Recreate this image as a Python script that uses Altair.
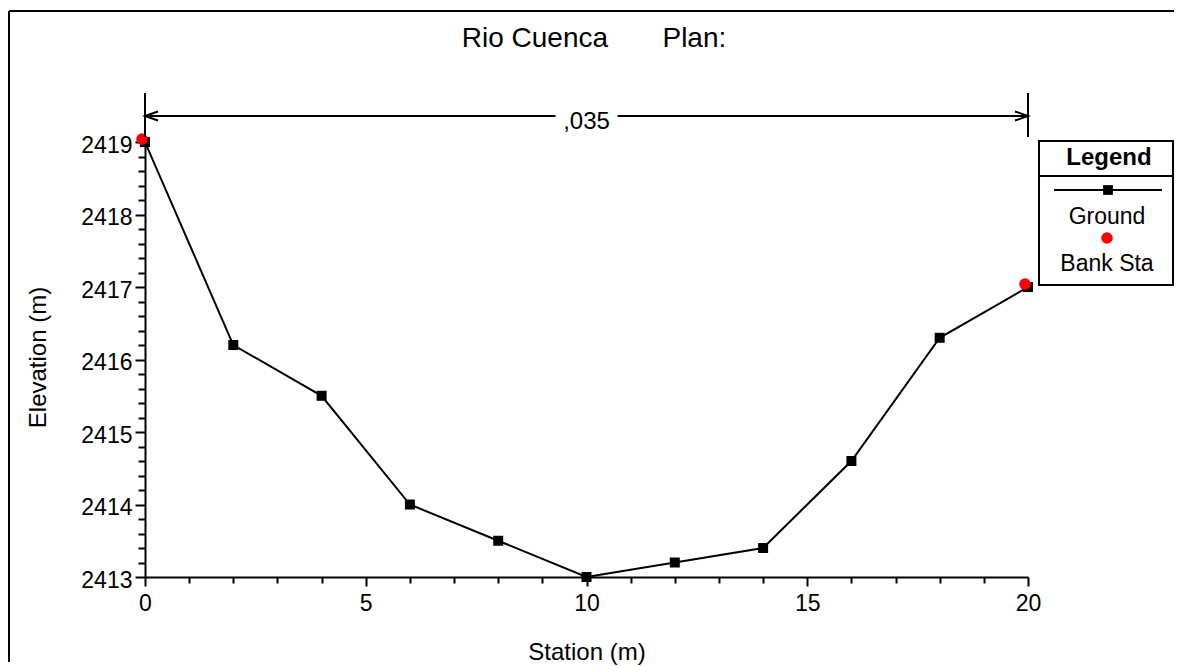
import altair as alt
import pandas as pd

# ---- data ----
stations = [0, 2, 4, 6, 8, 10, 12, 14, 16, 18, 20]
elevations = [2419.0, 2416.2, 2415.5, 2414.0, 2413.5, 2413.0, 2413.2, 2413.4, 2414.6, 2416.3, 2417.0]
bank_stations = [0, 20]
bank_elevations = [2419.0, 2417.0]
n_label = ",035"
n_start = 0
n_end = 20
x_ticks = list(range(0, 21))
y_ticks = [round(2413 + 0.2 * i, 1) for i in range(31)]
title_text = "Rio Cuenca" + "\u00a0" * 7 + "Plan:"
legend_title = "Legend"
legend_labels = ["Ground", "Bank Sta"]

FONT = "Liberation Sans"
W, H = 883, 440

ground = pd.DataFrame({"station": stations, "elevation": elevations})
bank = pd.DataFrame({"station": bank_stations, "elevation": bank_elevations})
nrow = pd.DataFrame({"station": [n_start], "station_end": [n_end],
                     "mid": [(n_start + n_end) / 2], "label": [n_label]})
ends = pd.DataFrame({"station": [n_start, n_end]})
one = pd.DataFrame({"k": [0]})

xscale = alt.Scale(domain=[0, 20], nice=False, zero=False)
yscale = alt.Scale(domain=[2413, 2419.07], nice=False, zero=False)

common_axis = dict(
    domainColor="black", domainWidth=2, tickColor="black", tickWidth=2,
    labelFont=FONT, labelFontSize=23, labelColor="black",
    labelOverlap=False, labelFlush=False, labelBound=False, grid=False,
    titleFont=FONT, titleFontSize=24, titleFontWeight="normal", titleColor="black",
    titleAlign="center", titleBaseline="middle",
)

xaxis = alt.Axis(
    title="Station (m)", values=x_ticks, tickCount=len(x_ticks), tickMinStep=1,
    labelExpr="datum.value % 5 === 0 ? format(datum.value, 'd') : ''",
    tickSize={"condition": {"test": "datum.value % 5 === 0", "value": 9}, "value": 6},
    labelPadding=6, titleX=W / 2, titleY=75, **common_axis)
yaxis = alt.Axis(
    title="Elevation (m)", values=y_ticks, tickCount=len(y_ticks), tickMinStep=0.2,
    labelExpr="datum.value % 1 === 0 ? format(datum.value, 'd') : ''",
    tickSize={"condition": {"test": "datum.value % 1 === 0", "value": 10}, "value": 7},
    labelPadding=3, labelOffset=3, titleX=-107, titleY=H / 2, titleAngle=270, **common_axis)

X = alt.X("station:Q", scale=xscale, axis=xaxis)
Y = alt.Y("elevation:Q", scale=yscale, axis=yaxis)

line = alt.Chart(ground).mark_line(color="black", strokeWidth=2).encode(x=X, y=Y)
squares = alt.Chart(ground).mark_point(shape="square", filled=True, size=100,
                                       color="black", opacity=1).encode(x=X, y=Y)
banks = alt.Chart(bank).mark_circle(size=135, color="#ff0000", opacity=1,
                                    xOffset=-3, yOffset=-3).encode(x=X, y=Y)

# ---- Manning's n dimension line above plot ----
markers = alt.Chart(ends).mark_rule(color="black", strokeWidth=2).encode(
    x="station:Q", y=alt.value(-44), y2=alt.value(0))
seg_left = alt.Chart(nrow).mark_rule(color="black", strokeWidth=2, x2Offset=-31).encode(
    x="station:Q", x2="mid:Q", y=alt.value(-21))
seg_right = alt.Chart(nrow).mark_rule(color="black", strokeWidth=2, xOffset=31).encode(
    x="mid:Q", x2="station_end:Q", y=alt.value(-21))
arrow_left = alt.Chart(nrow).mark_point(shape="M1,-0.35L0,0L1,0.35", size=676, filled=False,
                                        color="black", strokeWidth=2, opacity=1).encode(
    x="station:Q", y=alt.value(-21))
arrow_right = alt.Chart(nrow).mark_point(shape="M-1,-0.35L0,0L-1,0.35", size=676, filled=False,
                                         color="black", strokeWidth=2, opacity=1).encode(
    x="station_end:Q", y=alt.value(-21))
n_text = alt.Chart(nrow).mark_text(font=FONT, fontSize=24, color="black",
                                   align="center", baseline="middle").encode(
    x="mid:Q", y=alt.value(-15), text="label:N")

# ---- title ----
title = alt.Chart(one).mark_text(font=FONT, fontSize=28, color="black",
                                 align="center", baseline="middle").encode(
    x=alt.value(449), y=alt.value(-98), text=alt.value(title_text))

# ---- outer frame ----
frame_left = alt.Chart(one).mark_rule(color="black", strokeWidth=2).encode(
    x=alt.value(-136), y=alt.value(-126), y2=alt.value(525))
frame_top = alt.Chart(one).mark_rule(color="black", strokeWidth=2).encode(
    x=alt.value(-136), x2=alt.value(1029), y=alt.value(-126))

# ---- legend box ----
leg_box = alt.Chart(one).mark_rect(fill="white", stroke="black", strokeWidth=2).encode(
    x=alt.value(894), x2=alt.value(1028), y=alt.value(4), y2=alt.value(148))
leg_div = alt.Chart(one).mark_rule(color="black", strokeWidth=2).encode(
    x=alt.value(894), x2=alt.value(1030), y=alt.value(39))
leg_title = alt.Chart(one).mark_text(font=FONT, fontSize=24, fontWeight="bold", color="black",
                                     align="center", baseline="middle").encode(
    x=alt.value(964), y=alt.value(21), text=alt.value(legend_title))
leg_line = alt.Chart(one).mark_rule(color="black", strokeWidth=2).encode(
    x=alt.value(909), x2=alt.value(1017), y=alt.value(53))
leg_sq = alt.Chart(one).mark_point(shape="square", filled=True, size=95, color="black",
                                   opacity=1).encode(x=alt.value(963), y=alt.value(53))
leg_ground = alt.Chart(one).mark_text(font=FONT, fontSize=23, color="black",
                                      align="center", baseline="middle").encode(
    x=alt.value(962), y=alt.value(80), text=alt.value(legend_labels[0]))
leg_dot = alt.Chart(one).mark_circle(size=135, color="#ff0000", opacity=1).encode(
    x=alt.value(962), y=alt.value(101))
leg_bank = alt.Chart(one).mark_text(font=FONT, fontSize=23, color="black",
                                    align="center", baseline="middle").encode(
    x=alt.value(962), y=alt.value(127), text=alt.value(legend_labels[1]))

chart = alt.layer(
    line, squares, banks,
    markers, seg_left, seg_right, arrow_left, arrow_right, n_text,
    title, frame_left, frame_top,
    leg_box, leg_div, leg_title, leg_line, leg_sq, leg_ground, leg_dot, leg_bank,
).properties(
    width=W, height=H,
    autosize=alt.AutoSizeParams(type="none"),
    padding={"left": 137, "top": 129, "right": 146, "bottom": 89},
    background="white",
).configure_view(strokeWidth=0)

chart.save("out.html", embed_options={"renderer": "svg", "actions": False})
